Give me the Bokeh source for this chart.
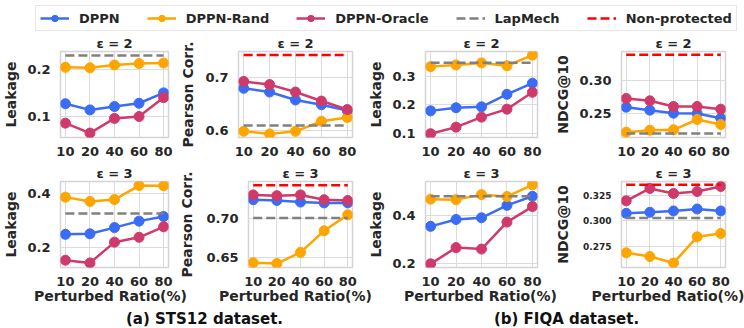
from bokeh.plotting import figure
from bokeh.layouts import column, row
from bokeh.models import Range1d, FixedTicker, NumeralTickFormatter, Legend, LegendItem, Label
from bokeh.embed import file_html
from bokeh.resources import INLINE

FONT = "DejaVu Sans"
TXT = "#262626"
C_DPPN = "#3b6cf6"
C_RAND = "#ffa500"
C_ORACLE = "#d03a6a"
C_LAP = "#808080"
C_NP = "#ff0000"

ratios = ["10", "20", "40", "60", "80"]

# ---------------- STS12, eps = 2 ----------------
dppn_leak_sts_e2 = [0.128, 0.115, 0.122, 0.129, 0.151]
rand_leak_sts_e2 = [0.205, 0.204, 0.210, 0.213, 0.214]
oracle_leak_sts_e2 = [0.087, 0.066, 0.097, 0.101, 0.141]
lap_leak_sts_e2 = 0.230

dppn_corr_sts_e2 = [0.680, 0.673, 0.658, 0.649, 0.638]
rand_corr_sts_e2 = [0.599, 0.594, 0.599, 0.618, 0.625]
oracle_corr_sts_e2 = [0.693, 0.687, 0.673, 0.656, 0.640]
lap_corr_sts_e2 = 0.610
np_corr_sts_e2 = 0.743

# ---------------- FIQA, eps = 2 ----------------
dppn_leak_fiqa_e2 = [0.178, 0.189, 0.192, 0.236, 0.275]
rand_leak_fiqa_e2 = [0.333, 0.339, 0.346, 0.336, 0.373]
oracle_leak_fiqa_e2 = [0.098, 0.121, 0.156, 0.184, 0.243]
lap_leak_fiqa_e2 = 0.347

dppn_ndcg_fiqa_e2 = [0.2595, 0.255, 0.2505, 0.250, 0.243]
rand_ndcg_fiqa_e2 = [0.222, 0.225, 0.2255, 0.241, 0.2335]
oracle_ndcg_fiqa_e2 = [0.2725, 0.269, 0.2605, 0.2605, 0.2565]
lap_ndcg_fiqa_e2 = 0.220
np_ndcg_fiqa_e2 = 0.338

# ---------------- STS12, eps = 3 ----------------
dppn_leak_sts_e3 = [0.247, 0.249, 0.272, 0.296, 0.313]
rand_leak_sts_e3 = [0.385, 0.369, 0.376, 0.428, 0.427]
oracle_leak_sts_e3 = [0.151, 0.141, 0.218, 0.236, 0.275]
lap_leak_sts_e3 = 0.324

dppn_corr_sts_e3 = [0.723, 0.722, 0.720, 0.719, 0.719]
rand_corr_sts_e3 = [0.644, 0.643, 0.657, 0.684, 0.704]
oracle_corr_sts_e3 = [0.729, 0.728, 0.729, 0.723, 0.722]
lap_corr_sts_e3 = 0.700
np_corr_sts_e3 = 0.741

# ---------------- FIQA, eps = 3 ----------------
dppn_leak_fiqa_e3 = [0.354, 0.383, 0.390, 0.442, 0.480]
rand_leak_fiqa_e3 = [0.468, 0.466, 0.487, 0.479, 0.528]
oracle_leak_fiqa_e3 = [0.197, 0.265, 0.259, 0.372, 0.437]
lap_leak_fiqa_e3 = 0.480

dppn_ndcg_fiqa_e3 = [0.3074, 0.3084, 0.3097, 0.3116, 0.3097]
rand_ndcg_fiqa_e3 = [0.2692, 0.2656, 0.2594, 0.2847, 0.2879]
oracle_ndcg_fiqa_e3 = [0.3195, 0.3315, 0.3266, 0.3285, 0.3334]
lap_ndcg_fiqa_e3 = 0.3029
np_ndcg_fiqa_e3 = 0.335

legend_labels = ["DPPN", "DPPN-Rand", "DPPN-Oracle", "LapMech", "Non-protected"]
captions = ["(a) STS12 dataset.", "(b) FIQA dataset."]
xlabel = "Perturbed Ratio(%)"

panels = [
    dict(title="ε = 2", ylabel="Leakage", d=dppn_leak_sts_e2, r=rand_leak_sts_e2, o=oracle_leak_sts_e2,
         lap=lap_leak_sts_e2, npv=None, yr=(0.0566, 0.2385), ticks=[0.1, 0.2], fmt="0.0"),
    dict(title="ε = 2", ylabel="Pearson Corr.", d=dppn_corr_sts_e2, r=rand_corr_sts_e2, o=oracle_corr_sts_e2,
         lap=lap_corr_sts_e2, npv=np_corr_sts_e2, yr=(0.5873, 0.7494), ticks=[0.6, 0.7], fmt="0.0",
         lab_standoff=6),
    dict(title="ε = 2", ylabel="Leakage", d=dppn_leak_fiqa_e2, r=rand_leak_fiqa_e2, o=oracle_leak_fiqa_e2,
         lap=lap_leak_fiqa_e2, npv=None, yr=(0.0847, 0.386), ticks=[0.1, 0.2, 0.3], fmt="0.0"),
    dict(title="ε = 2", ylabel="NDCG@10", d=dppn_ndcg_fiqa_e2, r=rand_ndcg_fiqa_e2, o=oracle_ndcg_fiqa_e2,
         lap=lap_ndcg_fiqa_e2, npv=np_ndcg_fiqa_e2, yr=(0.214, 0.343), ticks=[0.25, 0.30], fmt="0.00"),
    dict(title="ε = 3", ylabel="Leakage", d=dppn_leak_sts_e3, r=rand_leak_sts_e3, o=oracle_leak_sts_e3,
         lap=lap_leak_sts_e3, npv=None, yr=(0.124, 0.443), ticks=[0.2, 0.4], fmt="0.0"),
    dict(title="ε = 3", ylabel="Pearson Corr.", d=dppn_corr_sts_e3, r=rand_corr_sts_e3, o=oracle_corr_sts_e3,
         lap=lap_corr_sts_e3, npv=np_corr_sts_e3, yr=(0.638, 0.7458), ticks=[0.65, 0.70], fmt="0.00",
         lab_standoff=8),
    dict(title="ε = 3", ylabel="Leakage", d=dppn_leak_fiqa_e3, r=rand_leak_fiqa_e3, o=oracle_leak_fiqa_e3,
         lap=lap_leak_fiqa_e3, npv=None, yr=(0.1817, 0.542), ticks=[0.2, 0.4], fmt="0.0"),
    dict(title="ε = 3", ylabel="NDCG@10", d=dppn_ndcg_fiqa_e3, r=rand_ndcg_fiqa_e3, o=oracle_ndcg_fiqa_e3,
         lap=lap_ndcg_fiqa_e3, npv=np_ndcg_fiqa_e3, yr=(0.255, 0.3382), ticks=[0.275, 0.300, 0.325], fmt="0.000",
         tickfont="9px", lab_standoff=9),
]

xs = list(range(len(ratios)))

# column geometry: (width, left border, right border)
cols = [(176, 52, 8), (189, 62, 13), (187, 58, 15), (192, 58, 19)]
# row geometry: (height, top border, bottom border)
rows_geo = [(130, 18, 25), (126, 17, 21)]


def style_text(ax):
    ax.major_label_text_font = FONT
    ax.major_label_text_font_style = "bold"
    ax.major_label_text_color = TXT
    ax.axis_label_text_font = FONT
    ax.axis_label_text_font_style = "bold"
    ax.axis_label_text_color = TXT
    ax.axis_line_color = None
    ax.major_tick_line_color = None
    ax.minor_tick_line_color = None


def make_panel(spec, ci, ri):
    w, bl, br = cols[ci]
    h, bt, bb = rows_geo[ri]
    p = figure(width=w, height=h, output_backend="svg", toolbar_location=None,
               x_range=Range1d(-0.2, 4.2), y_range=Range1d(*spec["yr"]),
               min_border_left=bl, min_border_right=br, min_border_top=bt, min_border_bottom=bb)
    p.title.text = spec["title"]
    p.title.align = "center"
    p.title.text_font = FONT
    p.title.text_font_size = "13px"
    p.title.text_font_style = "bold"
    p.title.text_color = TXT
    p.title.standoff = 2
    p.background_fill_color = "white"
    p.border_fill_color = "white"
    p.outline_line_color = "#d4d4d4"
    p.outline_line_width = 1.5

    style_text(p.xaxis[0])
    style_text(p.yaxis[0])
    p.xaxis.ticker = FixedTicker(ticks=xs)
    p.xaxis.major_label_overrides = {i: t for i, t in enumerate(ratios)}
    p.xaxis.major_label_text_font_size = "13px"
    p.xaxis.major_label_standoff = 3
    p.yaxis.ticker = FixedTicker(ticks=spec["ticks"])
    p.yaxis.formatter = NumeralTickFormatter(format=spec["fmt"])
    p.yaxis.major_label_text_font_size = spec.get("tickfont", "13px")
    p.yaxis.major_label_standoff = 4
    p.yaxis.axis_label = spec["ylabel"]
    p.yaxis.axis_label_text_font_size = "14px"
    p.yaxis.axis_label_standoff = spec.get("lab_standoff", 5)

    p.xgrid.ticker = FixedTicker(ticks=xs)
    p.ygrid.ticker = FixedTicker(ticks=spec["ticks"])
    for g in (p.xgrid[0], p.ygrid[0]):
        g.grid_line_color = "#dcdcdc"
        g.grid_line_width = 1

    for vals, c in ((spec["d"], C_DPPN), (spec["r"], C_RAND), (spec["o"], C_ORACLE)):
        p.line(xs, vals, line_color=c, line_width=2.5)
        p.scatter(xs, vals, size=10, fill_color=c, line_color=c)
    p.line(xs, [spec["lap"]] * len(xs), line_color=C_LAP, line_width=2.5, line_dash="9 4")
    if spec["npv"] is not None:
        p.line(xs, [spec["npv"]] * len(xs), line_color=C_NP, line_width=2.5, line_dash="9 4")
    return p


figs = [make_panel(s, i % 4, i // 4) for i, s in enumerate(panels)]

# ---------------- legend strip ----------------
lg = figure(width=744, height=32, output_backend="svg", toolbar_location=None,
            x_range=Range1d(100, 101), y_range=Range1d(100, 101),
            x_axis_location=None, y_axis_location=None, min_border=0)
lg.outline_line_color = None
lg.xgrid.visible = False
lg.ygrid.visible = False
items = []
series_for_legend = [(legend_labels[0], dppn_leak_sts_e2, C_DPPN),
                     (legend_labels[1], rand_leak_sts_e2, C_RAND),
                     (legend_labels[2], oracle_leak_sts_e2, C_ORACLE)]
for lab, vals, c in series_for_legend:
    rl = lg.line(xs, vals, line_color=c, line_width=2.5)
    rs = lg.scatter(xs, vals, size=10, fill_color=c, line_color=c)
    items.append(LegendItem(label=lab, renderers=[rl, rs]))
rl = lg.line(xs, [lap_leak_sts_e2] * len(xs), line_color=C_LAP, line_width=2.5, line_dash="9 4")
items.append(LegendItem(label=legend_labels[3], renderers=[rl]))
rl = lg.line(xs, [np_corr_sts_e2] * len(xs), line_color=C_NP, line_width=2.5, line_dash="9 4")
items.append(LegendItem(label=legend_labels[4], renderers=[rl]))
leg = Legend(items=items, orientation="horizontal", location=(35, 1),
             padding=4, spacing=27, label_standoff=10, glyph_width=29, glyph_height=16,
             label_height=16, margin=0,
             label_text_font=FONT, label_text_font_style="bold", label_text_font_size="13px",
             label_text_color=TXT, border_line_color="#d0d0d0", border_line_width=1.5,
             background_fill_color="white", background_fill_alpha=1.0)
lg.add_layout(leg)

# ---------------- x-axis titles and captions ----------------
STRIP_H = 40
cap = figure(width=744, height=STRIP_H, output_backend="svg", toolbar_location=None,
             x_range=Range1d(0, 744), y_range=Range1d(0, STRIP_H),
             x_axis_location=None, y_axis_location=None, min_border=0)
cap.outline_line_color = None
cap.xgrid.visible = False
cap.ygrid.visible = False
frame_centers = [110, 295, 480, 667.5]
for xc in frame_centers:
    cap.add_layout(Label(x=xc, y=STRIP_H - 7, text=xlabel, text_align="center", text_baseline="middle",
                         text_font=FONT, text_font_style="bold", text_font_size="14px", text_color=TXT))
for xc, txt in zip((204, 566), captions):
    cap.add_layout(Label(x=xc, y=10, text=txt, text_align="center", text_baseline="middle",
                         text_font=FONT, text_font_style="bold", text_font_size="15px", text_color="#111111"))

layout = column(lg, row(*figs[:4]), row(*figs[4:]), cap)

open("out.html", "w").write(file_html(layout, INLINE))
